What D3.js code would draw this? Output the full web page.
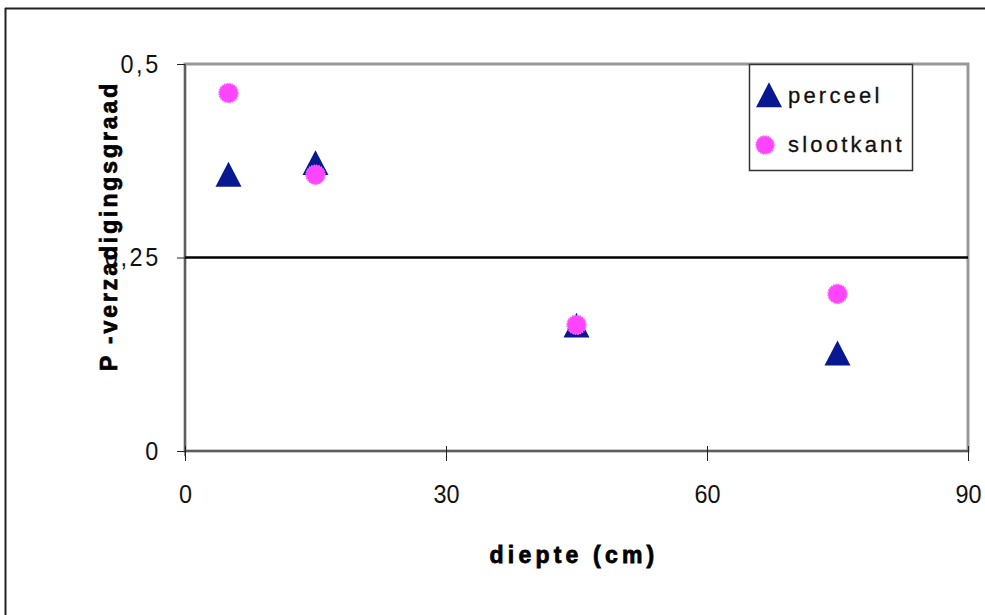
<!DOCTYPE html>
<html><head><meta charset="utf-8">
<script src="https://cdn.jsdelivr.net/npm/d3@7"></script>
<style>body{margin:0;background:#fff}svg{display:block}text{font-family:"Liberation Sans",Arial,sans-serif}</style>
</head><body><div id="chart"></div>
<script>
const depth = [5, 15, 45, 75];
const perceel = [0.356, 0.371, 0.161, 0.125];
const slootkant = [0.4625, 0.357, 0.163, 0.203];
const xTicks = [0, 30, 60, 90];
const yTicks = [0, 0.25, 0.5];
const yTickLabels = ["0", "0,25", "0,5"];
const refLine = 0.25;
const seriesNames = ["perceel", "slootkant"];

const W = 985, H = 615;
const m = {left: 185, top: 64, right: 968, bottom: 451};
const SX = 0.9; // horizontal condensing of tick labels
const svg = d3.select("#chart").append("svg").attr("width", W).attr("height", H);

// outer frame (partially visible)
svg.append("line").attr("x1",5).attr("x2",W).attr("y1",8.5).attr("y2",8.5).attr("stroke","#222").attr("stroke-width",2);
svg.append("line").attr("x1",5.5).attr("x2",5.5).attr("y1",8).attr("y2",H).attr("stroke","#222").attr("stroke-width",2);

const x = d3.scaleLinear().domain([0, 90]).range([m.left, m.right]);
const y = d3.scaleLinear().domain([0, 0.5]).range([m.bottom, m.top]);

// plot area border
svg.append("rect").attr("x", m.left).attr("y", m.top).attr("width", m.right - m.left).attr("height", m.bottom - m.top)
  .attr("fill", "none").attr("stroke", "#999").attr("stroke-width", 3);

// reference line
svg.append("line").attr("x1", x(0)).attr("x2", x(90)).attr("y1", y(refLine)).attr("y2", y(refLine))
  .attr("stroke", "#000").attr("stroke-width", 2.5);

// x axis
const xAxis = svg.append("g").attr("transform", `translate(0,${m.bottom})`)
  .call(d3.axisBottom(x).tickValues(xTicks).tickSize(10).tickFormat(d3.format("d")));
xAxis.attr("font-family", "Liberation Sans, Arial, sans-serif").attr("font-size", 26);
xAxis.select(".domain").attr("stroke", "#222").attr("d", `M${x(0)},0H${x(90)}`);
xAxis.selectAll(".tick line").attr("stroke", "#222").attr("y1", -5).attr("y2", 10);
xAxis.selectAll(".tick text").attr("y", 52).attr("dy", null)
  .attr("transform", `scale(${SX},1)`).attr("fill", "#111");

// y axis
const yAxis = svg.append("g").attr("transform", `translate(${m.left},0)`)
  .call(d3.axisLeft(y).tickValues(yTicks).tickSize(8).tickFormat(d => yTickLabels[yTicks.indexOf(d)]));
yAxis.attr("font-family", "Liberation Sans, Arial, sans-serif").attr("font-size", 26);
yAxis.select(".domain").attr("stroke", "#222").attr("d", `M0,${y(0) + 5}V${y(0.5)}`);
yAxis.selectAll(".tick line").attr("stroke", "#222");
yAxis.selectAll(".tick text").attr("x", -24 / SX).attr("transform", `scale(${SX},1)`)
  .attr("fill", "#111").style("letter-spacing", "3px");

// axis titles
svg.append("text").attr("transform", `translate(117,226) rotate(-90)`).attr("text-anchor", "middle")
  .attr("font-size", 23).attr("font-weight", "bold").style("letter-spacing", "2.9px").attr("fill", "#000")
  .attr("stroke", "#000").attr("stroke-width", 0.7)
  .text("P -verzadigingsgraad");
svg.append("text").attr("transform", `translate(574,563)`).attr("text-anchor", "middle")
  .attr("font-size", 23).attr("font-weight", "bold").style("letter-spacing", "4.2px").attr("fill", "#000")
  .attr("stroke", "#000").attr("stroke-width", 0.8)
  .text("diepte (cm)");

const navy = "#081890", pink = "#ff44ff";
const triType = {draw(ctx, size) {
  const w = Math.sqrt(size) * 0.75, h = w * 0.96;
  ctx.moveTo(0, -h * 0.55); ctx.lineTo(w / 2, h * 0.45); ctx.lineTo(-w / 2, h * 0.45); ctx.closePath();
}};
const tri = d3.symbol().type(triType).size(1200);

// perceel triangles
svg.append("g").selectAll("path").data(depth).join("path")
  .attr("d", tri).attr("fill", navy)
  .attr("transform", (d, i) => `translate(${x(d)},${y(perceel[i])})`);

// slootkant circles
svg.append("g").selectAll("circle").data(depth).join("circle")
  .attr("cx", d => x(d)).attr("cy", (d, i) => y(slootkant[i])).attr("r", 9.5)
  .attr("fill", pink).attr("stroke", "#ff66ff").attr("stroke-width", 1.5).attr("stroke-dasharray", "1.5,1");

// legend
const lg = svg.append("g");
lg.append("rect").attr("x", 749.5).attr("y", 64.5).attr("width", 163).attr("height", 106)
  .attr("fill", "#fff").attr("stroke", "#333").attr("stroke-width", 1.5);
lg.append("path").attr("d", tri).attr("fill", navy).attr("transform", "translate(769,96)");
lg.append("circle").attr("cx", 765).attr("cy", 145).attr("r", 9).attr("fill", pink)
  .attr("stroke", "#ff66ff").attr("stroke-width", 1.5).attr("stroke-dasharray", "1.5,1");
lg.selectAll("text").data(seriesNames).join("text")
  .attr("transform", (d, i) => `translate(788,${103 + i * 49})`)
  .attr("font-size", 22).attr("fill", "#111").attr("stroke", "#111").attr("stroke-width", 0.3)
  .style("letter-spacing", "3.2px").text(d => d);
</script></body></html>
